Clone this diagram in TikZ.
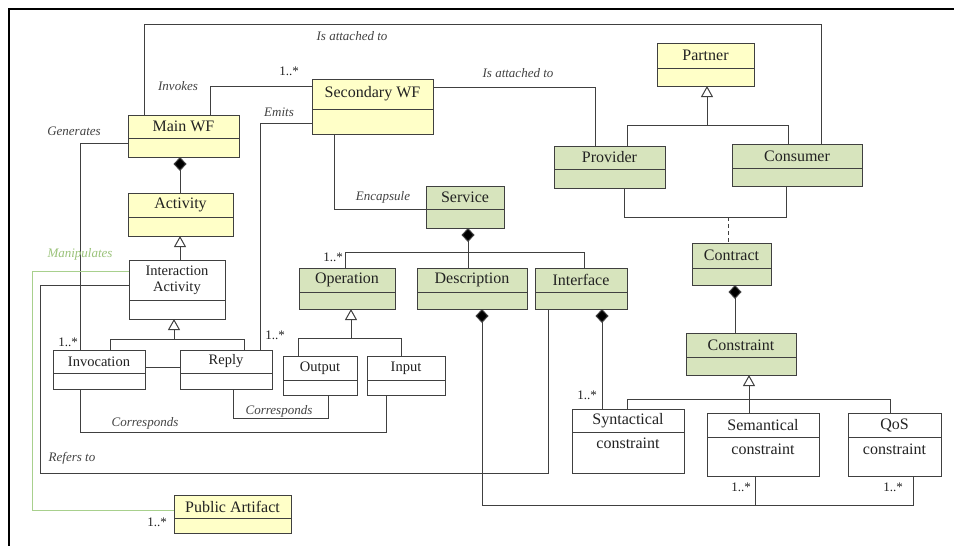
\documentclass[tikz,border=0pt]{standalone}
\usepackage{fontspec}
\setmainfont{Liberation Serif}
\usetikzlibrary{arrows.meta}
\definecolor{lc}{HTML}{404040}
\definecolor{yel}{HTML}{FFFFC8}
\definecolor{grn}{HTML}{D7E4BD}
\definecolor{gline}{HTML}{A8D08D}
\definecolor{gtext}{HTML}{9BC37A}
\definecolor{tc}{HTML}{222222}
\tikzset{
  classbox/.style={draw=lc, line width=1pt, inner sep=0pt, outer sep=0pt, rectangle},
  boxline/.style={draw=lc, line width=1pt},
  nametext/.style={font=\fontsize{16}{19}\selectfont, text=tc, inner sep=0pt, align=center},
  smalltext/.style={font=\fontsize{14.5}{16}\selectfont, text=tc, inner sep=0pt, align=center},
  lbl/.style={font=\fontsize{13}{15}\selectfont\itshape, text=tc!85, inner sep=0pt},
  mult/.style={font=\fontsize{13}{15}\selectfont, text=tc, inner sep=0pt},
  conn/.style={draw=lc, line width=1pt},
  comp/.style={conn, {Diamond[width=13pt,length=14pt,fill=black]}-},
  gen/.style={conn, -{Triangle[open,width=12pt,length=11pt,fill=white]}},
}
% name, x1, y1, x2, y2, ydiv, fill, text
\newcommand\uclass[8]{%
  \node[classbox, fill=#7, minimum width={(#4-#2)*1pt}, minimum height={(#5-#3)*1pt}] (#1) at ({(#2+#4)/2},{(#3+#5)/2}) {};
  \draw[boxline] (#2,#6) -- (#4,#6);
  \node[nametext] (#1-name) at ({(#2+#4)/2},{(#3+#6)/2}) {#8};
}
\newcommand\uclasssmall[8]{%
  \node[classbox, fill=#7, minimum width={(#4-#2)*1pt}, minimum height={(#5-#3)*1pt}] (#1) at ({(#2+#4)/2},{(#3+#5)/2}) {};
  \draw[boxline] (#2,#6) -- (#4,#6);
  \node[smalltext] (#1-name) at ({(#2+#4)/2},{(#3+#6)/2}) {#8};
}
\begin{document}
\begin{tikzpicture}[x=1pt,y=-1pt]
\useasboundingbox (0,0) rectangle (954,546);
\fill[white] (0,0) rectangle (954,546);
% frame
\draw[black, line width=1.6pt] (9,546) -- (9,9) -- (954,9);

% classes
\uclass{mainwf}{128}{115}{239}{157}{138}{yel}{Main WF}
\uclass{secwf}{312}{79}{433}{134}{109}{yel}{Secondary WF}
\uclass{partner}{657}{43}{754}{86}{68}{yel}{Partner}
\uclass{provider}{554}{146}{665}{188}{169}{grn}{Provider}
\uclass{consumer}{732}{144}{862}{186}{168}{grn}{Consumer}
\uclass{activity}{128}{193}{233}{236}{217}{yel}{Activity}
\uclasssmall{interact}{129}{260}{225}{319}{300}{white}{Interaction\\Activity}
\uclasssmall{invoc}{53}{350}{145}{389}{373}{white}{Invocation}
\uclasssmall{reply}{180}{350}{272}{389}{373}{white}{Reply}
\uclasssmall{output}{283}{356}{357}{395}{380}{white}{Output}
\uclasssmall{input}{367}{356}{445}{395}{380}{white}{Input}
\uclass{operation}{299}{268}{395}{309}{292}{grn}{Operation}
\uclass{descr}{417}{268}{527}{309}{292}{grn}{Description}
\uclass{interface}{535}{268}{627}{309}{292}{grn}{Interface}
\uclass{service}{426}{186}{504}{228}{209}{grn}{Service}
\uclass{contract}{692}{243}{771}{285}{268}{grn}{Contract}
\uclass{constraint}{686}{333}{796}{375}{357}{grn}{Constraint}
\uclass{syntac}{572}{409}{684}{473}{432}{white}{Syntactical}
\node[nametext] (syntac-sub) at (628,443) {constraint};
\uclass{semant}{707}{413}{819}{476}{437}{white}{Semantical}
\node[nametext] (semant-sub) at (763,449) {constraint};
\uclass{qos}{848}{413}{941}{476}{437}{white}{QoS}
\node[nametext] (qos-sub) at (894.5,449) {constraint};
\uclass{public}{174}{495}{291}{533}{518}{yel}{Public Artifact}

% connectors
\draw[conn] ([xshift=16pt]mainwf.north west) |- (821,24) -- ([xshift=89pt]consumer.north west);
\draw[conn] ([xshift=82pt]mainwf.north west) |- ([yshift=-7pt]secwf.north west);
\draw[conn] ([yshift=-8pt]secwf.north east) -| ([xshift=41pt]provider.north west);
\draw[conn] ([yshift=-44pt]secwf.north west) -| ([xshift=80pt]reply.north west);
\draw[conn] ([yshift=-28pt]mainwf.north west) -| ([xshift=27pt]invoc.north west);
\draw[comp] ([xshift=52pt]mainwf.south west) -- ([xshift=52pt]activity.north west);
\draw[gen] ([xshift=51pt]interact.north west) -- ([xshift=52pt]activity.south west);
\draw[gen] ([xshift=57pt]invoc.north west) |- (174,339) -- ([xshift=45pt]interact.south west);
\draw[conn] ([xshift=64pt]reply.north west) |- (174,339);
\draw[conn] ([yshift=-17pt]invoc.north east) -- ([yshift=-17pt]reply.north west);
\draw[conn] ([xshift=22pt]secwf.south west) |- ([yshift=-23pt]service.north west);
\draw[comp] ([xshift=42pt]service.south west) -- ([xshift=51pt]descr.north west);
\draw[conn] ([xshift=46pt]operation.north west) -- ++(0,-16) -| ([xshift=49pt]interface.north west);
\draw[gen] ([xshift=15pt]output.north west) |- (351,338) -- ([xshift=52pt]operation.south west);
\draw[conn] ([xshift=34pt]input.north west) |- (351,338);
\draw[conn] ([xshift=53pt]reply.south west) -- ++(0,29) -| ([xshift=45pt]output.south west);
\draw[conn] ([xshift=27pt]invoc.south west) -- ++(0,43) -| ([xshift=19pt]input.south west);
\draw[conn] ([yshift=-25pt]interact.north west) -| (40,473) -| ([xshift=13pt]interface.south west);
\draw[draw=gline, line width=1pt] ([yshift=-11pt]interact.north west) -| (32,510) -- ([yshift=-15pt]public.north west);
\draw[comp] ([xshift=65pt]descr.south west) -- (482,505) -| ([xshift=65pt]qos.south west);
\draw[conn] ([xshift=48pt]semant.south west) -- (755,505);
\draw[comp] ([xshift=67pt]interface.south west) -- ([xshift=30pt]syntac.north west);
\draw[conn] ([xshift=70pt]provider.south west) |- (786,217) -- ([xshift=54pt]consumer.south west);
\coordinate (pcjoin) at (728,217);
\draw[conn, dashed, dash pattern=on 4pt off 3pt] (pcjoin) -- ([xshift=36pt]contract.north west);
\draw[gen] ([xshift=73pt]provider.north west) |- (707,125) -- ([xshift=50pt]partner.south west);
\draw[conn] ([xshift=56pt]consumer.north west) |- (707,125);
\draw[comp] ([xshift=43pt]contract.south west) -- ([xshift=49pt]constraint.north west);
\draw[gen] ([xshift=55pt]syntac.north west) |- (749,399) -- ([xshift=63pt]constraint.south west);
\draw[conn] ([xshift=42pt]semant.north west) -- (749,399);
\draw[conn] ([xshift=42pt]qos.north west) |- (749,399);

% labels
\node[lbl] (l1) at (352,36) {Is attached to};
\node[lbl] (l2) at (178,86) {Invokes};
\node[mult] (m1) at (289,71) {1..*};
\node[lbl] (l3) at (518,73) {Is attached to};
\node[lbl] (l4) at (279,112) {Emits};
\node[mult] (m2) at (275,335) {1..*};
\node[lbl] (l5) at (74,131) {Generates};
\node[mult] (m3) at (68,342) {1..*};
\node[lbl] (l6) at (383,197) {Encapsule};
\node[mult] (m4) at (333,257) {1..*};
\node[lbl] (l7) at (279,411) {Corresponds};
\node[lbl] (l8) at (145,423) {Corresponds};
\node[lbl] (l9) at (72,458) {Refers to};
\node[lbl, text=gtext] (l10) at (80,254) {Manipulates};
\node[mult] (m5) at (157,522) {1..*};
\node[mult] (m6) at (741,487) {1..*};
\node[mult] (m7) at (893,487) {1..*};
\node[mult] (m8) at (587,395) {1..*};
\end{tikzpicture}
\end{document}
